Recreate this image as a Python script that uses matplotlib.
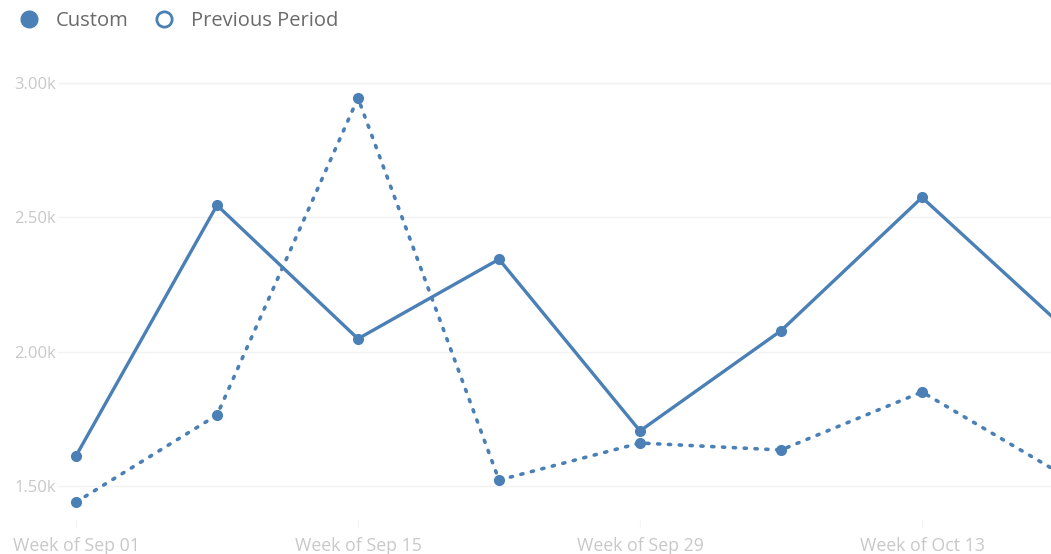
import matplotlib
matplotlib.use("Agg")
import matplotlib.pyplot as plt
from matplotlib.lines import Line2D

weeks = ["Week of Sep 01", "Week of Sep 08", "Week of Sep 15", "Week of Sep 22",
         "Week of Sep 29", "Week of Oct 06", "Week of Oct 13", "Week of Oct 20"]
custom = [1612, 2545, 2048, 2344, 1705, 2078, 2574, 2093]
previous = [1440, 1764, 2944, 1522, 1660, 1634, 1850, 1541]
ytick_vals = [1500, 2000, 2500, 3000]
ytick_labels = ["1.50k", "2.00k", "2.50k", "3.00k"]
xtick_idx = [0, 2, 4, 6]

color = "#4a80b6"
W, H = 1051, 554
fig = plt.figure(figsize=(W / 100, H / 100), dpi=100)
plt.rcParams['font.family'] = ['Open Sans', 'DejaVu Sans']

# axes spans pixels x 0..1051, y 60..520
ax = fig.add_axes([0, (H - 520) / H, 1, (520 - 60) / H])
px_per_unit_x = 141.0
ax.set_xlim(-76 / px_per_unit_x, (W - 76) / px_per_unit_x)
ppy = (486 - 83) / 1500.0
ax.set_ylim(1500 - (520 - 486) / ppy, 3000 + (83 - 60) / ppy)

x = list(range(len(weeks)))
ax.plot(x, custom, color=color, lw=2.4, marker="o", ms=7, solid_capstyle="round", zorder=3)
ax.plot(x, previous, color=color, lw=2.6, ls=(0, (0.6, 2.4)), dash_capstyle="round",
        marker="o", ms=7, zorder=3)

# gridlines starting right of labels
for v in ytick_vals:
    ax.axhline(v, xmin=58 / W, xmax=1, color="#f2f2f2", lw=1, zorder=1)

ax.set_yticks(ytick_vals)
ax.set_yticklabels(ytick_labels)
ax.tick_params(axis="y", length=0, pad=-40, labelsize=12, labelcolor="#c8c8c8")
for lab in ax.get_yticklabels():
    lab.set_horizontalalignment("right")

ax.set_xticks(xtick_idx)
ax.set_xticklabels([weeks[i] for i in xtick_idx])
ax.tick_params(axis="x", length=5, color="#f3f3f3", pad=7, labelsize=12.8, labelcolor="#c8c8c8")

for s in ax.spines.values():
    s.set_visible(False)
ax.set_facecolor("white")

handles = [
    Line2D([], [], ls="none", marker="o", ms=12, markerfacecolor=color, markeredgecolor=color),
    Line2D([], [], ls="none", marker="o", ms=11, markerfacecolor="white", markeredgecolor=color, markeredgewidth=2),
]
fig.legend(handles, ["Custom", "Previous Period"], loc="upper left",
           bbox_to_anchor=(0.002, 1.012), ncol=2, frameon=False, fontsize=14.5,
           labelcolor="#6a6a6a", handletextpad=0.85, columnspacing=1.35, handlelength=0.9)

fig.savefig("out.png", dpi=100)
